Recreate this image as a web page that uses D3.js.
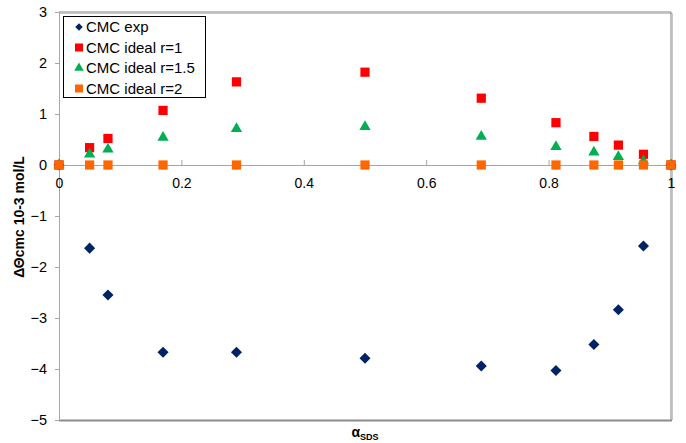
<!DOCTYPE html>
<html>
<head>
<meta charset="utf-8">
<script src="https://cdn.jsdelivr.net/npm/d3@7"></script>
<style>
  html, body { margin: 0; padding: 0; background: #fff; }
  svg { display: block; font-family: "Liberation Sans", Arial, sans-serif; }
</style>
</head>
<body>
<svg id="chart" width="686" height="443"></svg>
<script>
// Mole fraction of SDS in the mixture
const alphaSDS = [0, 0.05, 0.08, 0.17, 0.29, 0.5, 0.69, 0.812, 0.874, 0.914, 0.955, 1];

// Deviation of CMC from ideal mixing (10^-3 mol/L)
const cmcExp       = [0, -1.63, -2.55, -3.67, -3.67, -3.79, -3.94, -4.03, -3.52, -2.84, -1.59, 0];
const cmcIdealR1   = [0, 0.34, 0.52, 1.07, 1.63, 1.82, 1.31, 0.83, 0.56, 0.39, 0.21, 0];
const cmcIdealR15  = [0, 0.21, 0.31, 0.54, 0.71, 0.75, 0.56, 0.36, 0.25, 0.16, 0.08, 0];
const cmcIdealR2   = [0, 0, 0, 0, 0, 0, 0, 0, 0, 0, 0, 0];

const xTicks = [0, 0.2, 0.4, 0.6, 0.8, 1];
const yTicks = [-5, -4, -3, -2, -1, 0, 1, 2, 3];

const seriesNames = ["CMC exp", "CMC ideal r=1", "CMC ideal r=1.5", "CMC ideal r=2"];

const svg = d3.select("#chart");
const plotLeft = 59, plotRight = 671, plotTop = 12, plotBottom = 420;

const x = d3.scaleLinear().domain([0, 1]).range([plotLeft, plotRight]);
const y = d3.scaleLinear().domain([-5, 3]).range([plotBottom, plotTop]);

// Plot area frame (top and right), with a soft shadow line
svg.append("path")
  .attr("d", `M${plotLeft},${plotTop + 1.5}H${plotRight + 1.5}V${plotBottom}`)
  .attr("fill", "none").attr("stroke", "#c8c8c8").attr("stroke-width", 1);
svg.append("path")
  .attr("d", `M${plotLeft},${plotTop}H${plotRight}V${plotBottom}`)
  .attr("fill", "none").attr("stroke", "#808080").attr("stroke-width", 1);
// Bottom frame edge
svg.append("line")
  .attr("x1", plotLeft).attr("x2", plotRight + 1)
  .attr("y1", plotBottom + 0.5).attr("y2", plotBottom + 0.5)
  .attr("stroke", "#8c8c8c").attr("stroke-width", 2);

// Y axis
const yAxis = d3.axisLeft(y).tickValues(yTicks).tickSize(4).tickPadding(8)
  .tickFormat(d3.format("d"));
const gy = svg.append("g").attr("transform", `translate(${plotLeft},0)`).call(yAxis);
gy.select(".domain").attr("stroke", "#a6a6a6");
gy.selectAll(".tick line").attr("stroke", "#a6a6a6");
gy.selectAll(".tick text").attr("font-size", 14.5).attr("fill", "#000")
  .attr("font-family", "Liberation Sans, Arial, sans-serif");

// X axis crossing at y = 0, ticks pointing up
const xAxis = d3.axisBottom(x).tickValues(xTicks).tickSize(-5).tickPadding(13)
  .tickFormat(d => d === 0 || d === 1 ? d3.format("d")(d) : d3.format(".1f")(d));
const gx = svg.append("g").attr("transform", `translate(0,${y(0)})`).call(xAxis);
gx.select(".domain").attr("stroke", "#a6a6a6");
gx.selectAll(".tick line").attr("stroke", "#a6a6a6");
gx.selectAll(".tick text").attr("font-size", 14).attr("fill", "#000")
  .attr("font-family", "Liberation Sans, Arial, sans-serif");

// Axis titles
svg.append("text")
  .attr("transform", `translate(24,217) rotate(-90)`)
  .attr("text-anchor", "middle").attr("font-size", 14).attr("font-weight", "bold")
  .text("ΔΘcmc 10-3 mol/L");
const xt = svg.append("text")
  .attr("x", 365).attr("y", 437).attr("text-anchor", "middle")
  .attr("font-size", 14).attr("font-weight", "bold");
xt.append("tspan").text("α");
xt.append("tspan").attr("font-size", 9).attr("dy", 3).text("SDS");

// Marker shapes
const diamond = d3.symbol().type(d3.symbolDiamond2).size(78);
const square = d3.symbol().type(d3.symbolSquare).size(85);
const triangle = d3.symbol().type(d3.symbolTriangle).size(55);

const series = [
  { name: seriesNames[0], values: cmcExp,      color: "#002366", sym: diamond },
  { name: seriesNames[1], values: cmcIdealR1,  color: "#ff0000", sym: square },
  { name: seriesNames[2], values: cmcIdealR15, color: "#00b050", sym: triangle },
  { name: seriesNames[3], values: cmcIdealR2,  color: "#ff6600", sym: square }
];

series.forEach(s => {
  svg.append("g").selectAll("path")
    .data(alphaSDS.map((a, i) => [a, s.values[i]]))
    .join("path")
    .attr("transform", d => `translate(${x(d[0])},${y(d[1])})`)
    .attr("d", s.sym())
    .attr("fill", s.color);
});

// Legend
const lg = svg.append("g").attr("transform", "translate(63,16)");
lg.append("rect").attr("x", 0.5).attr("y", 0.5).attr("width", 142).attr("height", 81)
  .attr("fill", "#fff").attr("stroke", "#000").attr("stroke-width", 1);
const legSyms = [
  d3.symbol().type(d3.symbolDiamond2).size(36),
  d3.symbol().type(d3.symbolSquare).size(64),
  d3.symbol().type(d3.symbolTriangle).size(40),
  d3.symbol().type(d3.symbolSquare).size(64)
];
series.forEach((s, i) => {
  const ly = 10 + i * 20.5;
  lg.append("path").attr("transform", `translate(16,${ly + 1})`)
    .attr("d", legSyms[i]()).attr("fill", s.color);
  lg.append("text").attr("x", 23).attr("y", ly + 6)
    .attr("font-size", 15).attr("fill", "#000").text(s.name);
});
</script>
</body>
</html>
